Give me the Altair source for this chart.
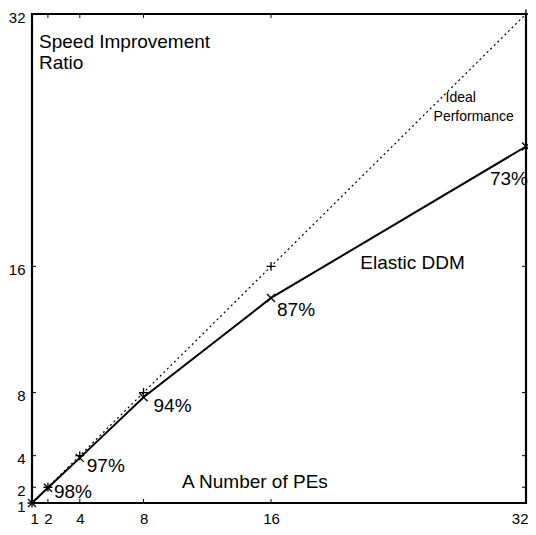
import altair as alt
import pandas as pd

# ---- data ----
pes = [1, 2, 4, 8, 16, 32]
ideal = [1, 2, 4, 8, 16, 32]
elastic = [1, 1.97, 3.86, 7.7, 14.0, 23.6]
eff_labels = ["", "98%", "97%", "94%", "87%", "73%"]
ticks = [1, 2, 4, 8, 16, 32]
inner_ticks = [2, 4, 8, 16]

ann_text = ["Speed Improvement", "Ratio", "Ideal", "Performance", "Elastic DDM", "A Number of PEs"]
ann_x = [1.44, 1.44, 26.95, 26.2, 21.6, 10.42]
ann_y = [30.2, 28.9, 26.65, 25.5, 16.2, 2.33]
ann_size = [19, 19, 14, 14, 19, 19]

W, H = 494, 489
FONT = "Liberation Sans"

df_ideal = pd.DataFrame({"pe": pes, "s": ideal})
df_el = pd.DataFrame({"pe": pes, "s": elastic, "lab": eff_labels})
df_ann = pd.DataFrame({"t": ann_text, "x": ann_x, "y": ann_y, "fs": ann_size})
df_t = pd.DataFrame({"v": inner_ticks})

xs = alt.Scale(domain=[1, 32], nice=False, zero=False)
ys = alt.Scale(domain=[1, 32], nice=False, zero=False)

xax = alt.Axis(values=ticks, ticks=False, domain=False, grid=False, title=None,
               labelFont=FONT, labelFontSize=15, labelColor="black", labelPadding=8,
               labelFlush=True, labelFlushOffset=2)
yax = alt.Axis(values=ticks, ticks=False, domain=False, grid=False, title=None,
               labelFont=FONT, labelFontSize=15, labelColor="black", labelPadding=7,
               labelFlush=False, labelOffset=3)

ideal_line = alt.Chart(df_ideal).mark_line(color="black", strokeWidth=1.2, strokeDash=[2, 3]).encode(
    x=alt.X("pe:Q", scale=xs, axis=xax), y=alt.Y("s:Q", scale=ys, axis=yax))
ideal_pts = alt.Chart(df_ideal).mark_point(shape="M-1,0L1,0M0,-1L0,1", filled=False, color="black",
                                           strokeWidth=1.3, size=80, opacity=1).encode(
    x=alt.X("pe:Q", scale=xs), y=alt.Y("s:Q", scale=ys))
el_line = alt.Chart(df_el).mark_line(color="black", strokeWidth=2).encode(
    x=alt.X("pe:Q", scale=xs), y=alt.Y("s:Q", scale=ys))
el_pts = alt.Chart(df_el).mark_point(shape="M-1,-1L1,1M1,-1L-1,1", filled=False, color="black",
                                     strokeWidth=1.3, size=64, opacity=1).encode(
    x=alt.X("pe:Q", scale=xs), y=alt.Y("s:Q", scale=ys))

offsets = {"98%": (6, 4, "left"), "97%": (7, 8, "left"), "94%": (10, 9, "left"),
           "87%": (6, 12, "left"), "73%": (2, 32, "right")}
pct_layers = []
for lab, (dx, dy, al) in offsets.items():
    pct_layers.append(
        alt.Chart(df_el).transform_filter(alt.datum.lab == lab).mark_text(
            font=FONT, fontSize=19, color="black", align=al, baseline="middle", dx=dx, dy=dy
        ).encode(x=alt.X("pe:Q", scale=xs), y=alt.Y("s:Q", scale=ys), text="lab:N"))

ann = alt.Chart(df_ann).mark_text(font=FONT, color="black", align="left", baseline="middle").encode(
    x=alt.X("x:Q", scale=xs), y=alt.Y("y:Q", scale=ys), text="t:N",
    size=alt.Size("fs:Q", scale=None, legend=None))

tk = dict(color="black", strokeWidth=1)
t_bottom = alt.Chart(df_t).mark_rule(**tk).encode(x=alt.X("v:Q", scale=xs), y=alt.value(H), y2=alt.value(H - 4))
t_top = alt.Chart(df_t).mark_rule(**tk).encode(x=alt.X("v:Q", scale=xs), y=alt.value(0), y2=alt.value(4))
t_left = alt.Chart(df_t).mark_rule(**tk).encode(y=alt.Y("v:Q", scale=ys), x=alt.value(0), x2=alt.value(4))
t_right = alt.Chart(df_t).mark_rule(**tk).encode(y=alt.Y("v:Q", scale=ys), x=alt.value(W), x2=alt.value(W - 4))

chart = alt.layer(
    t_bottom, t_top, t_left, t_right,
    ideal_line, ideal_pts, el_line, el_pts, *pct_layers, ann
).properties(
    width=W, height=H,
    background="white",
    autosize=alt.AutoSizeParams(type="none"),
    padding={"left": 24, "top": 6, "right": 2, "bottom": 22},
).configure_view(stroke="black", strokeWidth=2.2)

chart.save("out.html", embed_options={"renderer": "svg", "actions": False})
